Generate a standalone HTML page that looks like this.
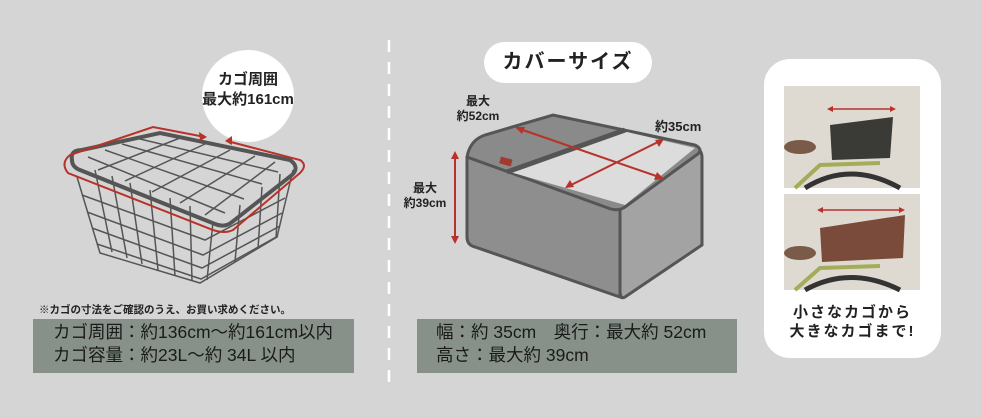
<!DOCTYPE html>
<html><head><meta charset="utf-8"><style>
body{margin:0;width:981px;height:417px;background:#d5d5d5;position:relative;overflow:hidden;font-family:"Liberation Sans","Noto Sans CJK JP",sans-serif;color:#222}
.a{position:absolute}
.box{position:absolute;background:#879189;font-size:17.5px;line-height:23px;color:#1a1a1a;padding-top:2px}
</style></head><body>
<svg class="a" style="left:0;top:0" width="981" height="417">
<line x1="389" y1="40" x2="389" y2="382" stroke="#fff" stroke-width="2.5" stroke-dasharray="12,10"/>
<circle cx="248" cy="96" r="46" fill="#fff"/>
<g fill="none" stroke="#555" stroke-width="1.5">
<path d="M77,177 L100,253 L200,283 L277,237 L293,170"/>
<path d="M82,195 L205,240 L285,198"/><path d="M87,212 L203,255 L282,213"/><path d="M92,228 L202,268 L280,226"/><path d="M97,244 L201,279 L278,236"/>
<path d="M95,170 L112,252"/><path d="M112,176 L127,258"/><path d="M130,183 L142,264"/><path d="M150,190 L158,270"/><path d="M170,198 L175,276"/><path d="M190,206 L192,281"/><path d="M213,222 L207,280"/><path d="M240,205 L235,262"/><path d="M262,187 L258,249"/><path d="M280,174 L276,238"/>
<path d="M88,157 L225,213"/><path d="M105,150 L244,199"/><path d="M122,144 L262,184"/><path d="M140,139 L278,172"/>
<path d="M180,138 L98,170"/><path d="M205,144 L125,181"/><path d="M230,150 L152,192"/><path d="M255,156 L180,203"/><path d="M275,162 L205,215"/>
</g>
<path d="M72,160 Q70,150 82,150 L160,133 L290,160 Q300,167 292,175 L232,222 Q225,228 215,224 L80,170 Q72,167 72,160Z" fill="none" stroke="#555" stroke-width="4"/>
<g fill="none" stroke="#b8322a" stroke-width="2">
<path d="M205,137 L153,127 L70,155 Q60,163 68,173 L213,230 Q225,234 233,230 L300,173 Q308,165 300,160 L227,141"/>
</g>
<path d="M207,137 L199,132 L200,141Z M225,141 L232,136 L232,145Z" fill="#b8322a"/>
<path d="M467,160 Q467,150 480,150 L620,207 L620,297 L475,247 Q467,245 467,237Z" fill="#8e8e8e" stroke="#555" stroke-width="3"/>
<path d="M620,207 L697,150 Q702,150 702,158 L702,245 L625,297 Q620,300 620,290Z" fill="#a3a3a3" stroke="#555" stroke-width="3"/>
<path d="M467,157 Q470,140 485,135 L553,115 L695,145 Q705,150 695,156 L625,207 Q618,212 608,208 Z" fill="#8a8a8a" stroke="#555" stroke-width="3"/>
<path d="M510,172 L627,132 L695,148 L625,205 Z" fill="#dcdcdc"/>
<path d="M507,172 L625,130" stroke="#555" stroke-width="5"/>
<rect x="500" y="158" width="12" height="7" fill="#a33a30" transform="rotate(15 506 161)"/>
<g stroke="#b8322a" stroke-width="2" fill="#b8322a">
<line x1="517" y1="128" x2="662" y2="178"/><line x1="567" y1="187" x2="662" y2="140"/><line x1="455" y1="154" x2="455" y2="241"/>
</g>
<path d="M515,127 L525,127 L522,134Z M664,179 L654,180 L657,172Z M565,188 L570,180 L574,187Z M664,139 L659,147 L655,140Z M455,151 L451,159 L459,159Z M455,244 L451,236 L459,236Z" fill="#b8322a"/>
<rect x="764" y="59" width="177" height="299" rx="26" fill="#fff"/>
<rect x="784" y="86" width="136" height="102" fill="#dedad1"/>
<rect x="784" y="194" width="136" height="96" fill="#dedad1"/>
<path d="M805,188 Q850,160 900,188 M805,290 Q850,265 900,290" stroke="#333" stroke-width="5" fill="none"/>
<path d="M795,188 L820,165 L880,163 M795,290 L820,268 L880,266" stroke="#a4ac5a" stroke-width="4" fill="none"/>
<path d="M830,125 L893,117 L890,158 L832,160Z" fill="#3a3a36"/>
<path d="M820,228 L905,215 L903,258 L822,262Z" fill="#7a4a3a"/>
<ellipse cx="800" cy="147" rx="16" ry="7" fill="#7a5a48"/><ellipse cx="800" cy="253" rx="16" ry="7" fill="#7a5a48"/>
<g stroke="#b8322a" stroke-width="1.5"><line x1="830" y1="109" x2="893" y2="109"/><line x1="820" y1="210" x2="902" y2="210"/></g>
<path d="M827,109 L833,106 L833,112Z M896,109 L890,106 L890,112Z M817,210 L823,207 L823,213Z M905,210 L899,207 L899,213Z" fill="#b8322a"/>
</svg>
<div class="a" style="left:200px;top:70px;width:96px;text-align:center;font-weight:bold;font-size:15px;line-height:20px">カゴ周囲<br>最大約161cm</div>
<div class="a" style="left:484px;top:42px;width:168px;height:41px;border-radius:21px;background:#fff;text-align:center;font-weight:bold;font-size:20px;line-height:41px;letter-spacing:2px">カバーサイズ</div>
<div class="a" style="left:448px;top:94px;width:60px;text-align:center;font-weight:bold;font-size:12px;line-height:15px">最大<br>約52cm</div>
<div class="a" style="left:655px;top:116px;font-weight:bold;font-size:13px">約35cm</div>
<div class="a" style="left:397px;top:181px;width:56px;text-align:center;font-weight:bold;font-size:12px;line-height:15px">最大<br>約39cm</div>
<div class="a" style="left:764px;top:303px;width:177px;text-align:center;font-weight:bold;font-size:15px;line-height:19px;letter-spacing:2px">小さなカゴから<br>大きなカゴまで!</div>
<div class="a" style="left:39px;top:302px;font-weight:bold;font-size:10.5px">※カゴの寸法をご確認のうえ、お買い求めください。</div>
<div class="box" style="left:33px;top:319px;width:301px;height:52px;padding-left:20px">カゴ周囲：約136cm〜約161cm以内<br>カゴ容量：約23L〜約 34L 以内</div>
<div class="box" style="left:417px;top:319px;width:301px;height:52px;padding-left:19px">幅：約 35cm　奥行：最大約 52cm<br>高さ：最大約 39cm</div>
</body></html>
